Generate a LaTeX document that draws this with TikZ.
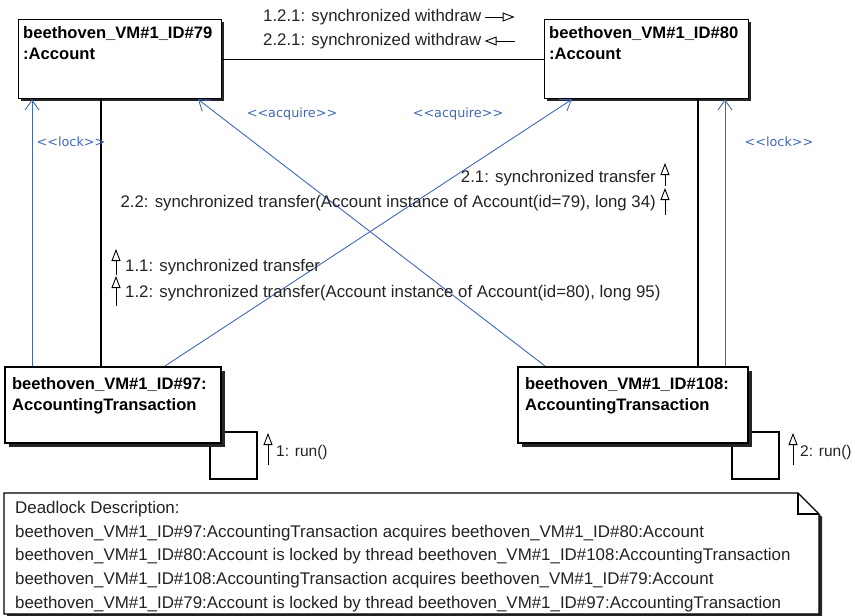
\documentclass[tikz,border=0pt]{standalone}
\usepackage{fontspec}
\setmainfont{Liberation Sans}
\newfontfamily\dejavu{DejaVu Sans}
\usetikzlibrary{arrows.meta,calc}
\definecolor{umlblue}{RGB}{64,104,184}
\definecolor{umlpurple}{RGB}{150,50,180}
\definecolor{msgtext}{RGB}{35,35,35}
\begin{document}
\begin{tikzpicture}[x=1pt,y=-1pt,
  acct/.style={draw, line width=1.3pt, fill=white, anchor=north west, inner xsep=4.5pt, inner ysep=7pt},
  thr/.style={draw, line width=2.2pt, fill=white, anchor=north west, inner xsep=7pt, inner ysep=10pt},
  boxfont/.style={font=\bfseries\fontsize{16.6}{21}\selectfont},
  msg/.style={inner sep=1pt, text=msgtext, font=\fontsize{16.8}{18}\selectfont},
  runmsg/.style={msg, font=\fontsize{15.5}{18}\selectfont},
  msgarrow/.style={line width=0.9pt, -{Triangle[open,length=12pt,width=9pt,line width=0.9pt]}},
  blabel/.style={inner sep=1pt, text=umlblue, font=\dejavu\fontsize{12.8}{14}\selectfont},
  barrow/.style={draw=umlblue, line width=0.9pt, -{Straight Barb[length=10pt,width=14pt,line width=0.9pt]}},
  link/.style={line width=1.1pt},
  lifeline/.style={draw=umlpurple, line width=1.2pt, dash pattern=on 10pt off 6pt},
  shadowfill/.style={fill=black!85, draw=none}
]
\useasboundingbox (0,0) rectangle (855,616);

% self loops (behind the thread boxes)
\coordinate (L1a) at (220,432);
\coordinate (L2a) at (747,432);
\draw[link] (L1a) -- ++(37,0) -- ++(0,47) -- ++(-47,0) -- ++(0,-37);
\draw[link] (L2a) -- ++(32,0) -- ++(0,47) -- ++(-47,0) -- ++(0,-37);

% shadows
\fill[shadowfill] (21,22) rectangle (224,101);
\fill[shadowfill] (547,22) rectangle (751,101);
\fill[shadowfill] (9,371) rectangle (225,447);
\fill[shadowfill] (522,371) rectangle (752,447);

% objects
\node[acct, boxfont] (b79) at (18,19)
  {\parbox[t][65pt][t]{194pt}{beethoven\_VM\#1\_ID\#79\\:Account}};
\node[acct, boxfont] (b80) at (544,19)
  {\parbox[t][65pt][t]{195pt}{beethoven\_VM\#1\_ID\#80\\:Account}};
\node[thr, boxfont] (b97) at (4,366)
  {\parbox[t][56pt][t]{202pt}{beethoven\_VM\#1\_ID\#97:\\AccountingTransaction}};
\node[thr, boxfont] (b108) at (517,366)
  {\parbox[t][56pt][t]{216pt}{beethoven\_VM\#1\_ID\#108:\\AccountingTransaction}};

% links
\draw[link] (b79.east) -- (b80.west);
\draw[link] ([xshift=83pt]b79.south west) -- ([xshift=97pt]b97.north west);
\draw[link] ([xshift=154pt]b80.south west) -- ([xshift=181pt]b108.north west);

% blue dependencies
\draw[barrow] ([xshift=28pt]b97.north west) -- ([xshift=14pt]b79.south west);
\draw[barrow] ([xshift=208pt]b108.north west) -- ([xshift=181pt]b80.south west);
\draw[barrow] ([xshift=161pt]b97.north west) -- ([xshift=28pt]b80.south west);
\draw[barrow] ([xshift=28pt]b108.north west) -- ([xshift=180pt]b79.south west);

\node[blabel] (lk1) at (71,142) {<<lock>>};
\node[blabel] (lk2) at (779,142) {<<lock>>};
\node[blabel] (aq1) at (292,114) {<<acquire>>};
\node[blabel] (aq2) at (458,114) {<<acquire>>};

% messages
\node[msg, anchor=west] (m121) at (262,17) {1.2.1: synchronized withdraw};
\draw[msgarrow] ([xshift=2pt]m121.east) -- ++(30,0);
\node[msg, anchor=west] (m221) at (262,41) {2.2.1: synchronized withdraw};
\draw[msgarrow] ([xshift=32pt]m221.east) -- ([xshift=2pt]m221.east);

\node[msg, anchor=east] (m21) at (657,178) {2.1: synchronized transfer};
\draw[msgarrow] ([xshift=8pt,yshift=-8pt]m21.east) -- ([xshift=8pt,yshift=15pt]m21.east);
\node[msg, anchor=east] (m22) at (657,203) {2.2: synchronized transfer(Account instance of Account(id=79), long 34)};
\draw[msgarrow] ([xshift=8pt,yshift=-12pt]m22.east) -- ([xshift=8pt,yshift=15pt]m22.east);

\node[msg, anchor=west] (m11) at (124,267) {1.1: synchronized transfer};
\draw[msgarrow] ([xshift=-8pt,yshift=-8pt]m11.west) -- ([xshift=-8pt,yshift=18pt]m11.west);
\node[msg, anchor=west] (m12) at (124,293) {1.2: synchronized transfer(Account instance of Account(id=80), long 95)};
\draw[msgarrow] ([xshift=-8pt,yshift=-13pt]m12.west) -- ([xshift=-8pt,yshift=17pt]m12.west);

\node[runmsg, anchor=west] (r1) at (275,452) {1: run()};
\draw[msgarrow] ([xshift=-7pt,yshift=-13pt]r1.west) -- ([xshift=-7pt,yshift=19pt]r1.west);
\node[runmsg, anchor=west] (r2) at (799,452) {2: run()};
\draw[msgarrow] ([xshift=-6pt,yshift=-13pt]r2.west) -- ([xshift=-6pt,yshift=19pt]r2.west);

% note
\coordinate (nNW) at (4,493);
\coordinate (nF) at (798,493);
\coordinate (nFE) at (819,514);
\coordinate (nSE) at (819,614);
\coordinate (nSW) at (4,614);
\fill[shadowfill] (7,496) -- (801,496) -- (822,517) -- (822,617) -- (7,617) -- cycle;
\draw[line width=1.2pt, fill=white] (nNW) -- (nF) -- (nFE) -- (nSE) -- (nSW) -- cycle;
\draw[line width=1.2pt] (nF) -- (nF |- nFE) -- (nFE);
\node[anchor=north west, inner sep=0pt, align=left, text=msgtext,
      font=\fontsize{16.9}{23.7}\selectfont] (notetext) at (15,501)
  {Deadlock Description:\\
   beethoven\_VM\#1\_ID\#97:AccountingTransaction acquires beethoven\_VM\#1\_ID\#80:Account\\
   beethoven\_VM\#1\_ID\#80:Account is locked by thread beethoven\_VM\#1\_ID\#108:AccountingTransaction\\
   beethoven\_VM\#1\_ID\#108:AccountingTransaction acquires beethoven\_VM\#1\_ID\#79:Account\\
   beethoven\_VM\#1\_ID\#79:Account is locked by thread beethoven\_VM\#1\_ID\#97:AccountingTransaction};

% lifelines
\draw[lifeline] ([xshift=73pt]b97.south west) -- (b97.south west -| 77,493);
\draw[lifeline] ([xshift=115pt]b108.south west) -- (b108.south west -| 632,493);
\end{tikzpicture}
\end{document}
